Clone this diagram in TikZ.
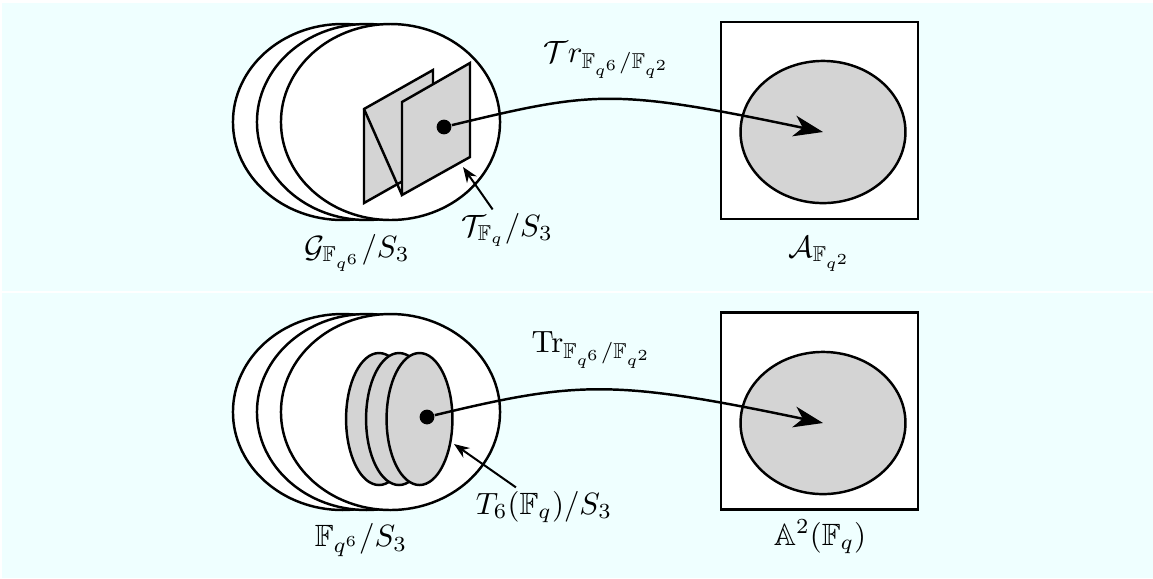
\documentclass[tikz,border=0pt]{standalone}
\usepackage{amssymb}
\usepackage{tikz}
\usetikzlibrary{positioning, arrows.meta, calc, shapes.geometric}
\definecolor{panelcyan}{HTML}{EFFFFF}
\definecolor{sheetgray}{HTML}{D4D4D4}

\tikzset{
  outline/.style={draw=black, line width=0.8pt},
  orbit/.style={outline, fill=white, ellipse, inner sep=0pt,
                minimum width=71.2pt, minimum height=63.7pt},
  torusdisk/.style={outline, fill=sheetgray, ellipse, inner sep=0pt,
                minimum width=21.4pt, minimum height=42.9pt},
  squarebox/.style={draw=black, line width=0.9pt, fill=white, inner sep=0pt,
                minimum size=64pt},
  imgarea/.style={outline, fill=sheetgray, ellipse, inner sep=0pt,
                minimum width=53.6pt, minimum height=46.2pt},
  dotmark/.style={circle, fill=black, inner sep=0pt, minimum size=4.8pt},
  labeltext/.style={inner sep=1pt},
  tracearrow/.style={line width=0.8pt, -{Stealth[length=9.5pt, width=6.8pt, inset=2.8pt]}},
  labelarrow/.style={line width=0.65pt, -{Stealth[length=5pt, width=3.8pt]}},
}

\begin{document}
\begin{tikzpicture}[x=0.325pt, y=-0.325pt]
    \useasboundingbox (0,0) rectangle (1153,578);
    % the two panels
    \fill[panelcyan] (2,3) rectangle (1153,291);
    \fill[panelcyan] (2,293) rectangle (1153,578);

    % upper panel
    \node[orbit] (g3) at (342.5,122) {};
    \node[orbit] (g2) at (366.5,122) {};
    \node[orbit] (g1) at (390.5,122) {};
    \filldraw[outline, fill=sheetgray] (364,109) -- (433,70) -- (433,164) -- (364,203) -- cycle;
    \draw[outline] (364,109) -- (402,195);
    \filldraw[outline, fill=sheetgray] (402,102) -- (470,63) -- (470,157) -- (402,195) -- cycle;
    \node[dotmark] (pt1) at (444,127) {};

    \node[squarebox] (boxA) at (819.5,120.5) {};
    \node[imgarea] (areaA) at (823,132) {};
    \draw[tracearrow] (pt1) .. controls +(150,-36) and +(-210,-44) .. (areaA.center);

    \node[labeltext] (trA) at (607,60) {$\mathcal{T}r_{\mathbb{F}_{q^6}/\mathbb{F}_{q^2}}$};
    \node[labeltext] (gLabel) at (357,253) {$\mathcal{G}_{\mathbb{F}_{q^6}}/S_3$};
    \node[labeltext] (tLabel) at (507,230) {$\mathcal{T}_{\mathbb{F}_q}/S_3$};
    \node[labeltext] (aLabel) at (820,254) {$\mathcal{A}_{\mathbb{F}_{q^2}}$};
    \coordinate (tEdge) at (463,167);
    \draw[labelarrow] (tLabel) -- (tEdge);

    % lower panel
    \node[orbit] (f3) at (342.5,412) {};
    \node[orbit] (f2) at (366.5,412) {};
    \node[orbit] (f1) at (390.5,412) {};
    \node[torusdisk] (d3) at (379,419) {};
    \node[torusdisk] (d2) at (399,419) {};
    \node[torusdisk] (d1) at (419.5,419) {};
    \node[dotmark] (pt2) at (427,417) {};

    \node[squarebox] (boxB) at (819.5,411) {};
    \node[imgarea] (areaB) at (823,423) {};
    \draw[tracearrow] (pt2) .. controls +(150,-36) and +(-210,-44) .. (areaB.center);

    \node[labeltext] (trB) at (592,350) {$\mathrm{Tr}_{\mathbb{F}_{q^6}/\mathbb{F}_{q^2}}$};
    \node[labeltext] (fLabel) at (361,540) {$\mathbb{F}_{q^6}/S_3$};
    \node[labeltext] (sLabel) at (544,507) {$T_6(\mathbb{F}_q)/S_3$};
    \node[labeltext] (bLabel) at (820,537) {$\mathbb{A}^2(\mathbb{F}_q)$};
    \coordinate (sEdge) at (454,444);
    \draw[labelarrow] (sLabel) -- (sEdge);
\end{tikzpicture}
\end{document}
